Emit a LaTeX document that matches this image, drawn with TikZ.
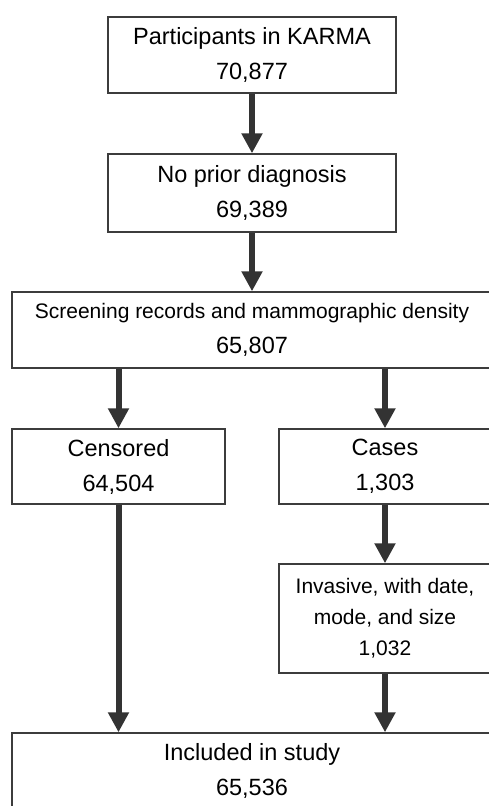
\documentclass[tikz,border=0pt]{standalone}
\usepackage{fontspec}
\setmainfont{Liberation Sans}
\usepackage{tikz}
\usetikzlibrary{arrows.meta}
\definecolor{myboxgray}{RGB}{60,60,60}
\definecolor{myarrowgray}{RGB}{51,51,51}

\tikzset{
  flowBox/.style={draw=myboxgray, line width=1.4pt, fill=white, align=center,
    inner sep=0pt, font=\fontsize{23.5}{35}\selectfont},
  smallText/.style={font=\fontsize{21}{31}\selectfont},
  flowArrow/.style={draw=myarrowgray, line width=6pt,
    -{Triangle[width=20pt,length=20pt]}}
}

\begin{document}
\begin{tikzpicture}[x=1pt,y=-1pt]
    % Fix the page to the size of the picture
    \useasboundingbox (0,0) rectangle (489,806);
    \clip (0,0) rectangle (489,806);
    
    % Boxes of the flow chart
    \node[flowBox, minimum width=288pt, minimum height=76pt] (karma) at (252,55)
      {Participants in KARMA\\70,877};
    \node[flowBox, minimum width=288pt, minimum height=78pt] (noprior) at (252,193)
      {No prior diagnosis\\69,389};
    \node[flowBox, minimum width=480pt, minimum height=76pt] (screening) at (252,330)
      {{\fontsize{21}{21}\selectfont Screening records and mammographic density}\\65,807};
    \node[flowBox, minimum width=213pt, minimum height=75pt] (censored) at (118.5,466.5)
      {Censored\\64,504};
    \node[flowBox, minimum width=212pt, minimum height=75pt] (cases) at (385,466.5)
      {Cases\\1,303};
    \node[flowBox, smallText, minimum width=212pt, minimum height=109pt] (invasive) at (385,618.5)
      {Invasive, with date,\\mode, and size\\1,032};
    \node[flowBox, minimum width=480pt, minimum height=76pt] (included) at (252,771)
      {Included in study\\65,536};
    
    % Arrows between the boxes
    \draw[flowArrow] (karma.south) -- (noprior.north);
    \draw[flowArrow] (noprior.south) -- (screening.north);
    \draw[flowArrow] (screening.south -| censored.north) -- (censored.north);
    \draw[flowArrow] (screening.south -| cases.north) -- (cases.north);
    \draw[flowArrow] (cases.south) -- (invasive.north);
    \draw[flowArrow] (censored.south) -- (censored.south |- included.north);
    \draw[flowArrow] (invasive.south) -- (invasive.south |- included.north);
\end{tikzpicture}
\end{document}
